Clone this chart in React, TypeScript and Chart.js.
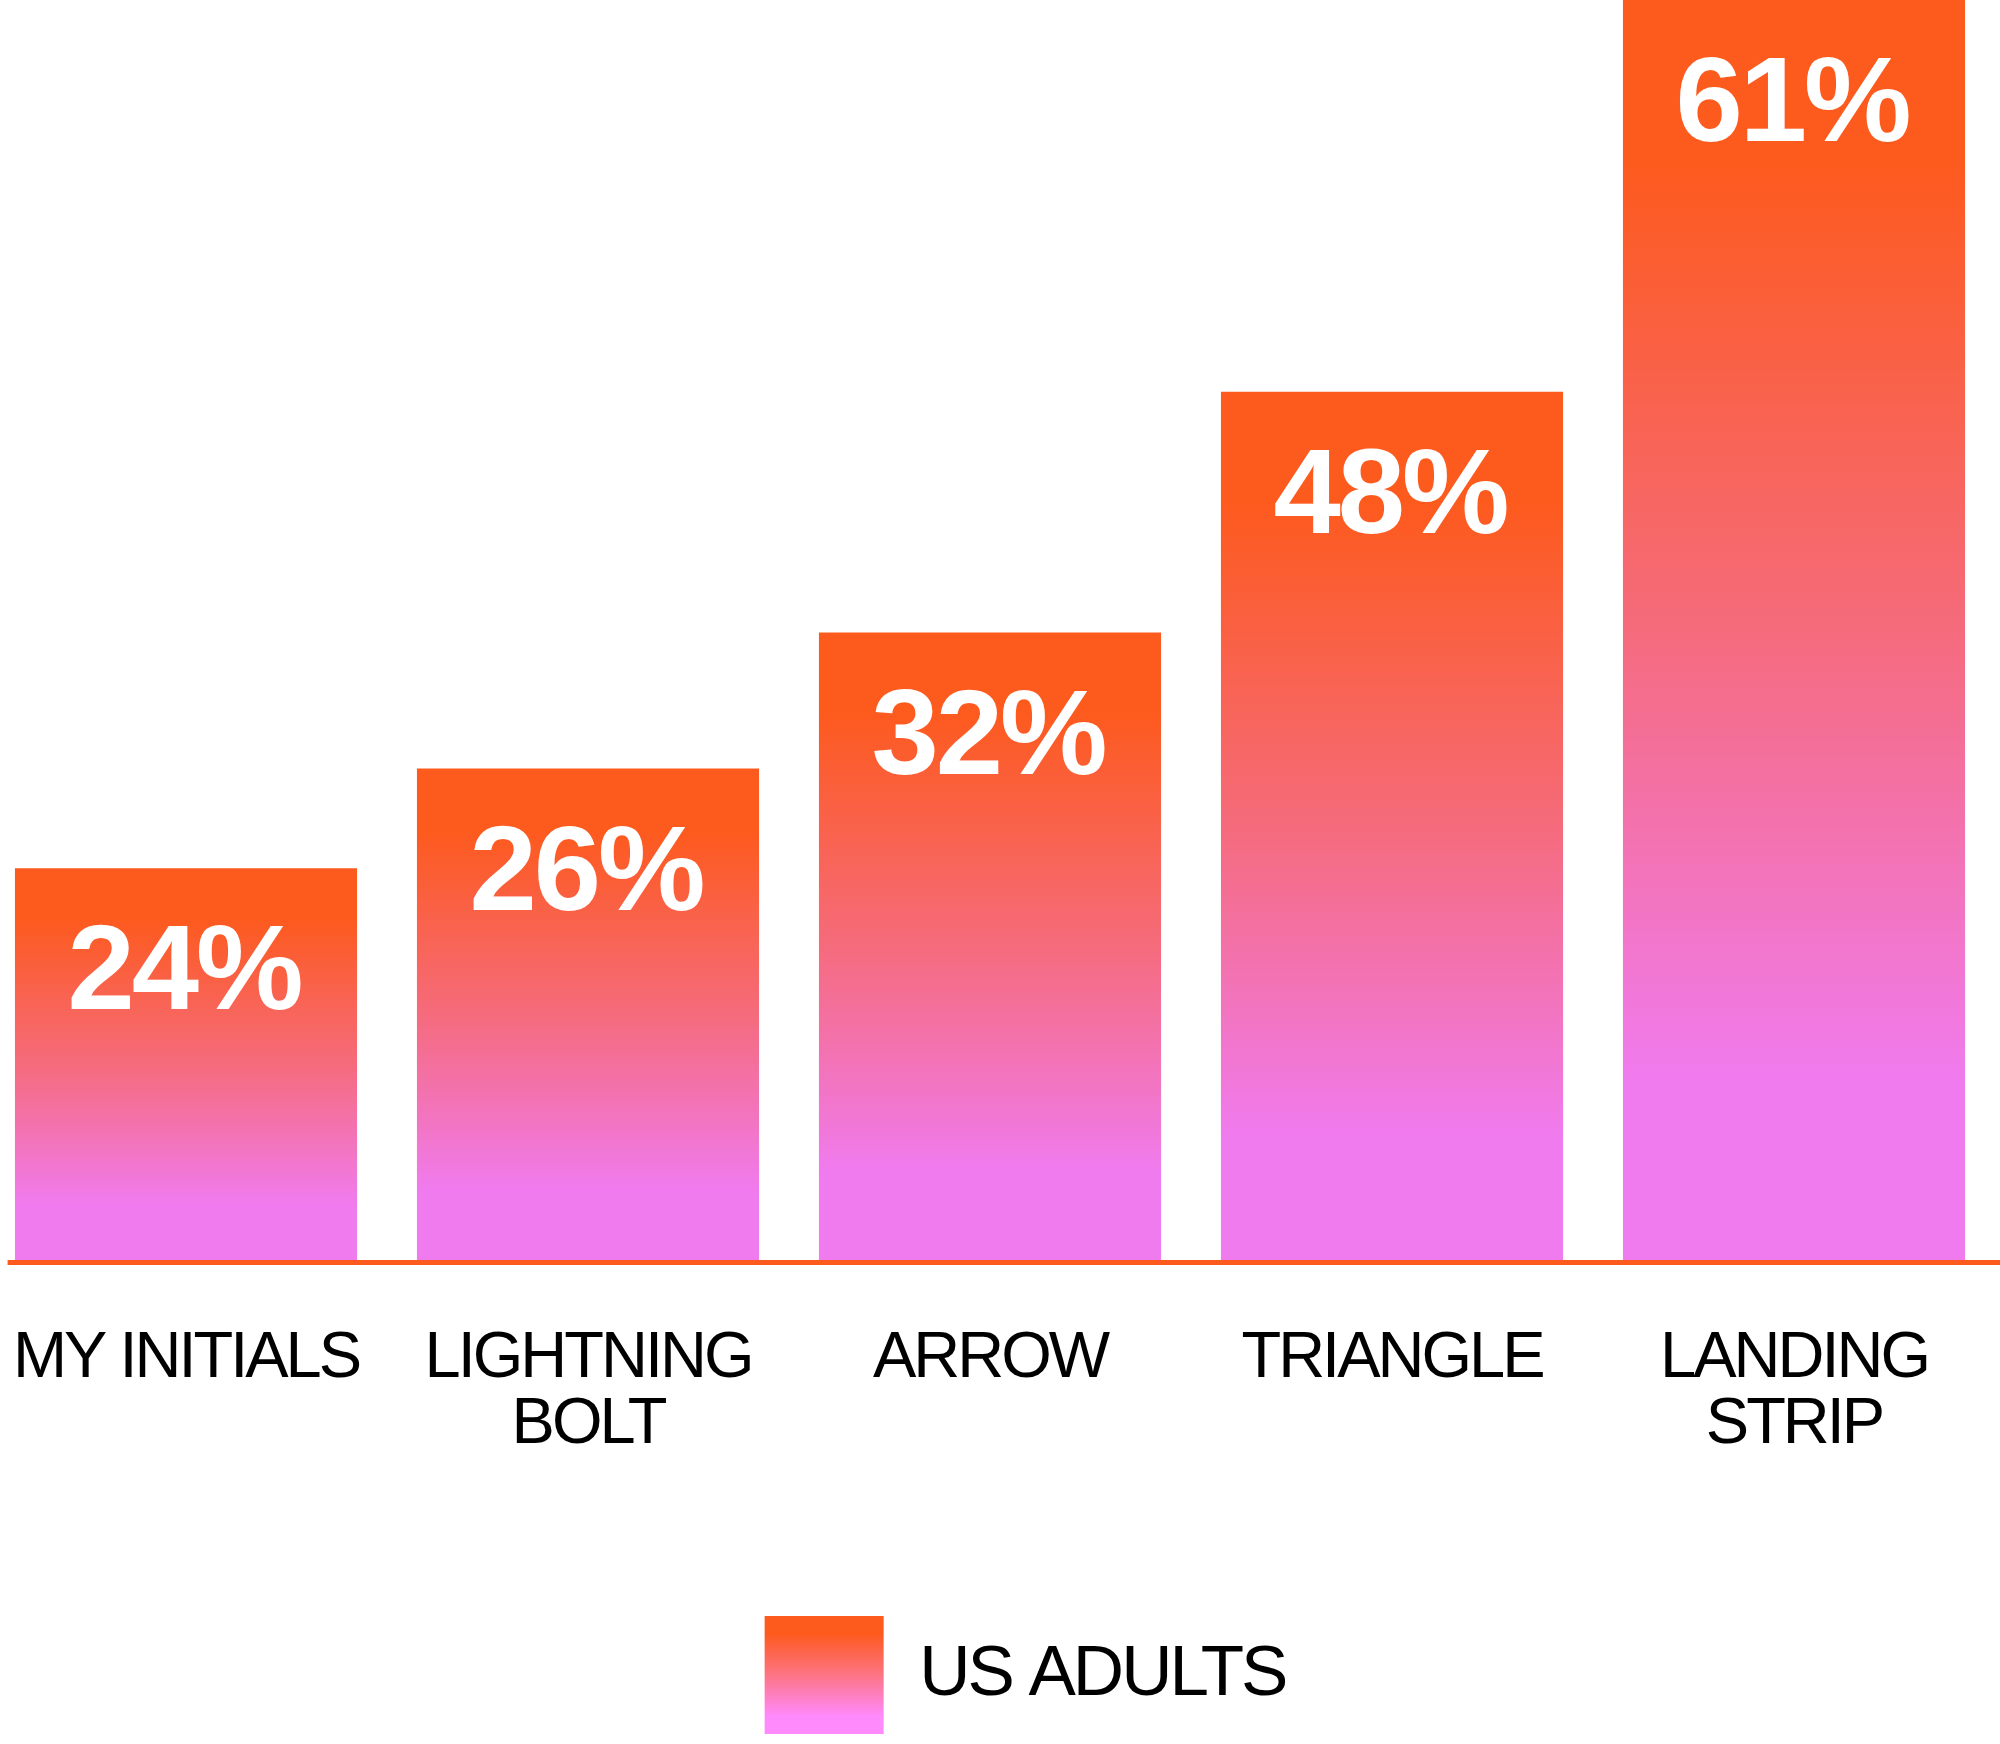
import React, { useEffect, useRef } from "react";
import { Chart, registerables } from "chart.js";

Chart.register(...registerables);

// ---- data ----
const categories: string[][] = [["MY INITIALS"], ["LIGHTNING", "BOLT"], ["ARROW"], ["TRIANGLE"], ["LANDING", "STRIP"]];
const percentLabels: string[] = ["24%", "26%", "32%", "48%", "61%"];
// bar heights as drawn in the picture, on a hidden 0–100 axis
const barHeights: number[] = [31.1, 39.0, 49.8, 68.9, 100];
const seriesName = "US ADULTS";

// ---- style ----
const ORANGE = "#FD5A1E";
const MID = "#F56B7C";
const PINK = "#F07BEF";
const FONT = "'Liberation Sans', Arial, Helvetica, sans-serif";
const LEGEND_SHIFT = 35;

const overlay = {
  id: "overlay",
  beforeUpdate(chart: any) {
    chart.ctx.letterSpacing = "-3px";
  },
  afterLayout(chart: any) {
    const lg = chart.legend;
    if (lg) {
      lg.left += LEGEND_SHIFT;
      lg.right += LEGEND_SHIFT;
    }
  },
  beforeDraw(chart: any) {
    chart.ctx.letterSpacing = "-3px";
    const lg = chart.legend;
    if (lg && lg.legendItems && lg.legendItems[0]) {
      const top = lg.top + lg.options.labels.padding;
      const h = lg.options.labels.boxHeight;
      const g = chart.ctx.createLinearGradient(0, top, 0, top + h);
      g.addColorStop(0, ORANGE);
      g.addColorStop(0.15, ORANGE);
      g.addColorStop(0.5, "#FD7484");
      g.addColorStop(0.85, "#FF8AFC");
      g.addColorStop(1, "#FF8AFC");
      lg.legendItems[0].fillStyle = g;
      lg.legendItems[0].lineWidth = 0;
    }
  },
  afterDatasetsDraw(chart: any) {
    const ctx = chart.ctx;
    const area = chart.chartArea;
    ctx.save();
    ctx.fillStyle = ORANGE;
    ctx.fillRect(22.6, area.bottom, chart.width - 22.6, 5);
    ctx.font = `bold 121px ${FONT}`;
    ctx.letterSpacing = "-3px";
    ctx.fillStyle = "#FFFFFF";
    ctx.textAlign = "center";
    ctx.textBaseline = "alphabetic";
    const meta = chart.getDatasetMeta(0);
    meta.data.forEach((bar: any, i: number) => {
      ctx.fillText(percentLabels[i], bar.x - 2, bar.y + 141);
    });
    ctx.restore();
    ctx.letterSpacing = "-3px";
  },
};

export default function App() {
  const ref = useRef<HTMLCanvasElement>(null);
  useEffect(() => {
    if (!ref.current) return;
    const chart = new Chart(ref.current, {
      type: "bar",
      data: {
        labels: categories,
        datasets: [
          {
            label: seriesName,
            data: barHeights,
            borderWidth: 0,
            barPercentage: 0.851,
            categoryPercentage: 1,
            backgroundColor: (c: any) => {
              if (c.type !== "data" || !c.chart.scales || !c.chart.scales.y) return ORANGE;
              const y = c.chart.scales.y;
              const top = y.getPixelForValue(c.parsed.y);
              const bottom = y.getPixelForValue(0);
              if (!isFinite(top) || !isFinite(bottom) || top === bottom) return ORANGE;
              const g = c.chart.ctx.createLinearGradient(0, top, 0, bottom);
              g.addColorStop(0, ORANGE);
              g.addColorStop(0.13, ORANGE);
              g.addColorStop(0.5, MID);
              g.addColorStop(0.86, PINK);
              g.addColorStop(1, PINK);
              return g;
            },
          },
        ],
      },
      options: {
        animation: false,
        responsive: true,
        maintainAspectRatio: false,
        layout: { padding: { left: 0, right: 5, top: 0, bottom: 0 } },
        scales: {
          x: {
            grid: { display: false, drawTicks: true, tickLength: 66 },
            border: { display: false },
            ticks: {
              color: "#000000",
              padding: 0,
              maxRotation: 0,
              autoSkip: false,
              font: { family: FONT, size: 65, lineHeight: 66 / 65 },
            },
            afterFit: (s: any) => {
              s.height = 347;
            },
          },
          y: { display: false, min: 0, max: 100 },
        },
        plugins: {
          tooltip: { enabled: false },
          legend: {
            display: true,
            position: "bottom",
            labels: {
              boxWidth: 119,
              boxHeight: 118,
              padding: 9,
              color: "#000000",
              font: { family: FONT, size: 71 },
            },
          },
        },
      },
      plugins: [overlay],
    } as any);
    return () => chart.destroy();
  }, []);
  return (
    <div style={{ position: "absolute", left: -15, top: 0, width: 2015, height: 1744 }}>
      <canvas ref={ref} />
    </div>
  );
}
